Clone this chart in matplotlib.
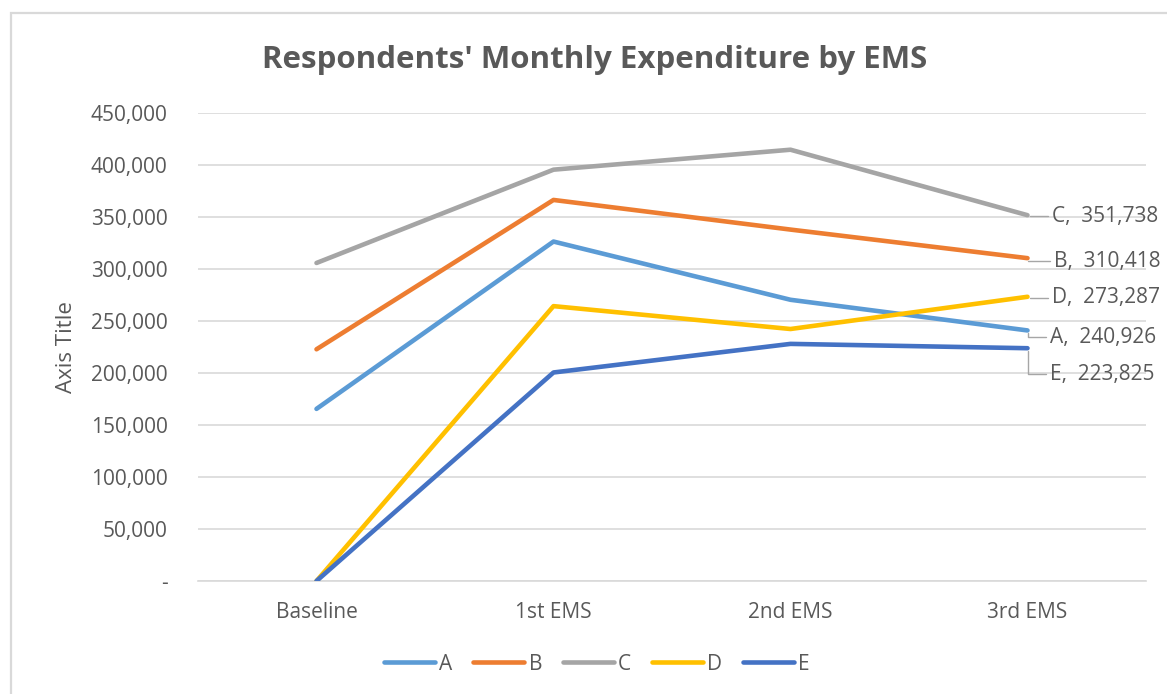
import numpy as np
import matplotlib
matplotlib.use('Agg')
import matplotlib.pyplot as plt
from matplotlib.patches import Rectangle

# data
stages = ['Baseline', '1st EMS', '2nd EMS', '3rd EMS']
groups = ['A', 'B', 'C', 'D', 'E']
exp_a = [165500, 326400, 270400, 240926]
exp_b = [222800, 366400, 337900, 310418]
exp_c = [305800, 395500, 414700, 351738]
exp_d = [0, 264300, 242300, 273287]
exp_e = [0, 200500, 228000, 223825]
y_ticks = [0, 50000, 100000, 150000, 200000, 250000, 300000, 350000, 400000, 450000]

colors = ['#5B9BD5', '#ED7D31', '#A5A5A5', '#FFC000', '#4472C4']
text_col = '#595959'
grid_col = '#D9D9D9'

plt.rcParams['font.family'] = ['Open Sans', 'DejaVu Sans']

fig = plt.figure(figsize=(11.67, 6.94), dpi=100)
ax = fig.add_axes([198 / 1167, 1 - 581 / 694, (1146 - 198) / 1167, (581 - 113) / 694])

# chart area border (only top/left visible in the crop)
fig.patches.append(Rectangle((11 / 1167, -0.1), 1.2, 1 - 13 / 694 + 0.1,
                             transform=fig.transFigure, fill=False,
                             ec=grid_col, lw=1.6, zorder=0))

x = np.arange(len(stages))
series = [exp_a, exp_b, exp_c, exp_d, exp_e]
for name, vals, col in zip(groups, series, colors):
    ax.plot(x, vals, color=col, lw=3.3, solid_capstyle='round',
            solid_joinstyle='round', label=name, zorder=3)

# end-of-line labels, offsets in pixels (dx, dy)
offsets = {'A': (22, -7), 'B': (26, -3), 'C': (24, -1), 'D': (24, -1), 'E': (22, -26)}
for name, vals in zip(groups, series):
    dx, dy = offsets[name]
    ax.annotate(f'{name},  {vals[-1]:,}', xy=(x[-1], vals[-1]),
                xytext=(dx, dy), textcoords='offset pixels',
                ha='left', va='center', fontsize=15, color=text_col,
                bbox=dict(boxstyle='square,pad=0.15', fc='none', ec='none'),
                arrowprops=dict(arrowstyle='-', color='#A6A6A6', lw=1,
                                connectionstyle='angle,angleA=0,angleB=90,rad=0',
                                relpos=(0, 0.5), shrinkA=0, shrinkB=2))

ax.set_xlim(-0.5, len(stages) - 0.5)
ax.set_ylim(0, 450000)
ax.set_xticks(x)
ax.set_xticklabels(stages)
ax.set_yticks(y_ticks)
ax.set_yticklabels(['-' if v == 0 else f'{v:,}' for v in y_ticks])
ax.tick_params(axis='both', length=0, labelsize=15, colors=text_col)
ax.tick_params(axis='y', pad=22)
ax.tick_params(axis='x', pad=15)
ax.grid(axis='y', color=grid_col, lw=1.2)
ax.set_axisbelow(True)
for s in ['top', 'right', 'left']:
    ax.spines[s].set_visible(False)
ax.spines['bottom'].set_color(grid_col)
ax.spines['bottom'].set_linewidth(1.2)

ax.set_ylabel('Axis Title', fontsize=16, color=text_col, labelpad=10)

fig.text(595 / 1167, 1 - 60 / 694, "Respondents' Monthly Expenditure by EMS",
         ha='center', va='center', fontsize=22.5, fontweight='bold', color=text_col)

leg = fig.legend(loc='center', bbox_to_anchor=(597 / 1167, 1 - 664 / 694),
                 ncol=5, frameon=False, fontsize=15, handlelength=2.45,
                 handletextpad=0.2, columnspacing=1.0)
for t in leg.get_texts():
    t.set_color(text_col)

fig.savefig('out.png', dpi=100)
